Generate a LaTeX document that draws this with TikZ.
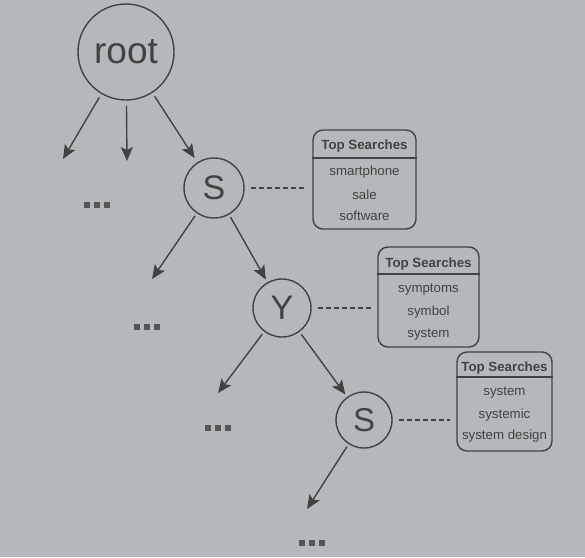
\documentclass[tikz,border=0pt]{standalone}
\usepackage{fontspec}
\setmainfont{Liberation Sans}
\usetikzlibrary{arrows.meta}
\definecolor{bg}{RGB}{180,184,186}
\definecolor{ink}{RGB}{66,66,66}
\begin{document}
\begin{tikzpicture}[x=1pt,y=-1pt,
  circ/.style={draw=ink, line width=1.4pt, circle, inner sep=0pt, text=ink},
  arr/.style={draw=ink, line width=1.4pt, -{Stealth[length=14pt,width=12pt,inset=3pt]}},
  dashlink/.style={draw=ink, line width=1.2pt, dash pattern=on 5pt off 3pt, shorten <=6pt, shorten >=6pt},
  tsbox/.style={draw=ink, line width=1.4pt, rounded corners=10pt, rectangle, inner sep=0pt},
  hdr/.style={text=ink, font=\bfseries\fontsize{13.3}{15}\selectfont, inner sep=0pt, text height=9.5pt, text depth=2.7pt},
  item/.style={text=ink, font=\fontsize{13.3}{15}\selectfont, inner sep=0pt, text height=9.5pt, text depth=2.7pt},
  dots/.style={inner sep=0pt, text=ink!90}
]
\fill[bg] (0,0) rectangle (585,557);
\useasboundingbox (0,0) rectangle (585,557);
\newcommand{\tridots}{\rule{6pt}{6pt}\hspace{4pt}\rule{6pt}{6pt}\hspace{4pt}\rule{6pt}{6pt}}

% circles
\node[circ, minimum size=96pt, font=\fontsize{37}{40}\selectfont] (root) at (126,52) {root};
\node[circ, minimum size=60pt, font=\fontsize{34}{36}\selectfont] (s1) at (214,188) {S};
\node[circ, minimum size=58pt, font=\fontsize{34}{36}\selectfont] (y) at (282,308) {Y};
\node[circ, minimum size=56pt, font=\fontsize{33}{36}\selectfont] (s2) at (364,420) {S};

% dots
\node[dots] (d1) at (97,205) {\tridots};
\node[dots] (d2) at (147,327) {\tridots};
\node[dots] (d3) at (218,428) {\tridots};
\node[dots] (d4) at (312,543) {\tridots};

% arrow end points
\coordinate (a1) at (63,159);
\coordinate (a2) at (127,161);
\coordinate (a3) at (152,279);
\coordinate (a5) at (218,393);
\coordinate (a6) at (307,509);

\draw[arr, shorten <=4pt] (root) -- (a1);
\draw[arr, shorten <=5pt] (root) -- (a2);
\draw[arr, shorten <=4pt, shorten >=5pt] (root) -- (s1);
\draw[arr, shorten <=3pt] (s1) -- (a3);
\draw[arr, shorten <=3pt, shorten >=3pt] (s1) -- (y);
\draw[arr, shorten <=3pt] (y) -- (a5);
\draw[arr, shorten <=3pt, shorten >=3pt] (y) -- (s2);
\draw[arr, shorten <=3pt] (s2) -- (a6);

% boxes
\node[tsbox, minimum width=103pt, minimum height=99pt] (b1) at (364.5,179.5) {};
\draw[ink, line width=1.4pt] (b1.west |- 0,158) -- (b1.east |- 0,158);
\node[hdr] (b1h) at (b1.center |- 0,146) {Top Searches};
\node[item] (b1a) at (b1.center |- 0,172) {smartphone};
\node[item] (b1b) at (b1.center |- 0,196) {sale};
\node[item] (b1c) at (b1.center |- 0,217) {software};

\node[tsbox, minimum width=101pt, minimum height=100pt] (b2) at (428.5,297) {};
\draw[ink, line width=1.4pt] (b2.west |- 0,274) -- (b2.east |- 0,274);
\node[hdr] (b2h) at (b2.center |- 0,264) {Top Searches};
\node[item] (b2a) at (b2.center |- 0,289) {symptoms};
\node[item] (b2b) at (b2.center |- 0,312) {symbol};
\node[item] (b2c) at (b2.center |- 0,334) {system};

\node[tsbox, minimum width=95pt, minimum height=99pt] (b3) at (504.5,401.5) {};
\draw[ink, line width=1.4pt] (b3.west |- 0,377) -- (b3.east |- 0,377);
\node[hdr] (b3h) at (b3.center |- 0,368) {Top Searches};
\node[item] (b3a) at (b3.center |- 0,392) {system};
\node[item] (b3b) at (b3.center |- 0,415) {systemic};
\node[item] (b3c) at (b3.center |- 0,436) {system design};

% dashed links
\draw[dashlink] (s1.east) -- (s1.east -| b1.west);
\draw[dashlink] (y.east) -- (y.east -| b2.west);
\draw[dashlink] (s2.east) -- (s2.east -| b3.west);
\end{tikzpicture}
\end{document}
